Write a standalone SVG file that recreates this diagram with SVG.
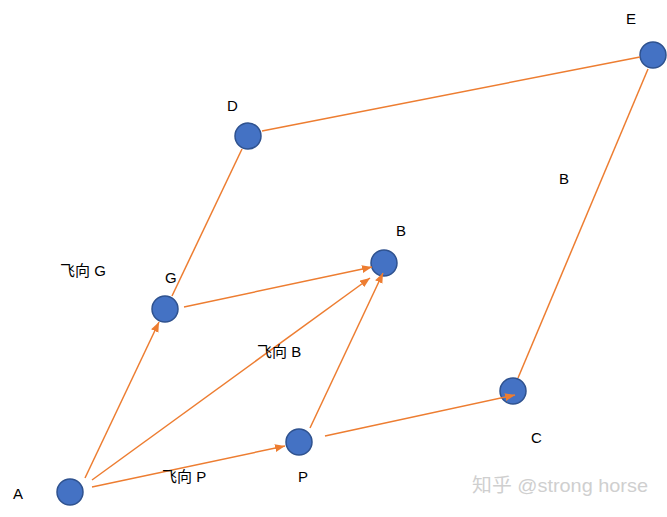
<svg xmlns="http://www.w3.org/2000/svg" width="667" height="517" viewBox="0 0 667 517">
<style>
.node{fill:#4472C4;stroke:#2F528F;stroke-width:1.5}
.ln{stroke:#ED7D31;stroke-width:1.5;fill:none}
.lbl{font-family:"Liberation Sans","Noto Sans CJK SC",sans-serif;font-size:15px;fill:#000}
.wm{font-family:"Liberation Sans","Noto Sans CJK SC",sans-serif;font-size:19px;fill:#cfcfcf}
</style>
<defs>
<marker id="arr" markerUnits="userSpaceOnUse" markerWidth="11" markerHeight="9" refX="10" refY="4" orient="auto">
<path d="M0,0 L10,4 L0,8 z" fill="#ED7D31"/>
</marker>
</defs>
<rect width="667" height="517" fill="#fff"/>
<g id="nodes">
<g id="A"><circle class="node" cx="70" cy="492" r="13"/></g>
<g id="G"><circle class="node" cx="165" cy="309" r="13"/></g>
<g id="D"><circle class="node" cx="248" cy="136" r="13"/></g>
<g id="B"><circle class="node" cx="384" cy="263" r="13"/></g>
<g id="P"><circle class="node" cx="299" cy="442" r="13"/></g>
<g id="C"><circle class="node" cx="513" cy="391" r="13"/></g>
<g id="E"><circle class="node" cx="653" cy="55" r="13"/></g>
</g>
<g id="connectors">
<line class="ln" x1="85" y1="478" x2="159" y2="322" marker-end="url(#arr)"/>
<line class="ln" x1="92" y1="480" x2="370" y2="278" marker-end="url(#arr)"/>
<line class="ln" x1="92" y1="487" x2="285" y2="446" marker-end="url(#arr)"/>
<line class="ln" x1="184" y1="307" x2="372" y2="267" marker-end="url(#arr)"/>
<line class="ln" x1="310" y1="428" x2="383" y2="273" marker-end="url(#arr)"/>
<line class="ln" x1="325" y1="436" x2="515" y2="395" marker-end="url(#arr)"/>
<line class="ln" x1="172" y1="296" x2="242" y2="149"/>
<line class="ln" x1="262" y1="131" x2="640" y2="57"/>
<line class="ln" x1="518" y1="378" x2="648" y2="69"/>
</g>
<g id="labels">
<text class="lbl" x="13" y="499">A</text>
<text class="lbl" x="165" y="283">G</text>
<text class="lbl" x="227" y="111">D</text>
<text class="lbl" x="396" y="236">B</text>
<text class="lbl" x="626" y="24">E</text>
<text class="lbl" x="559" y="184">B</text>
<text class="lbl" x="531" y="443">C</text>
<text class="lbl" x="298" y="482">P</text>
<text class="lbl" x="60" y="276">飞向 G</text>
<text class="lbl" x="257" y="357">飞向 B</text>
<text class="lbl" x="162" y="482">飞向 P</text>
<text class="wm" x="472" y="492" textLength="176" lengthAdjust="spacingAndGlyphs">知乎 @strong horse</text>
</g>
</svg>
